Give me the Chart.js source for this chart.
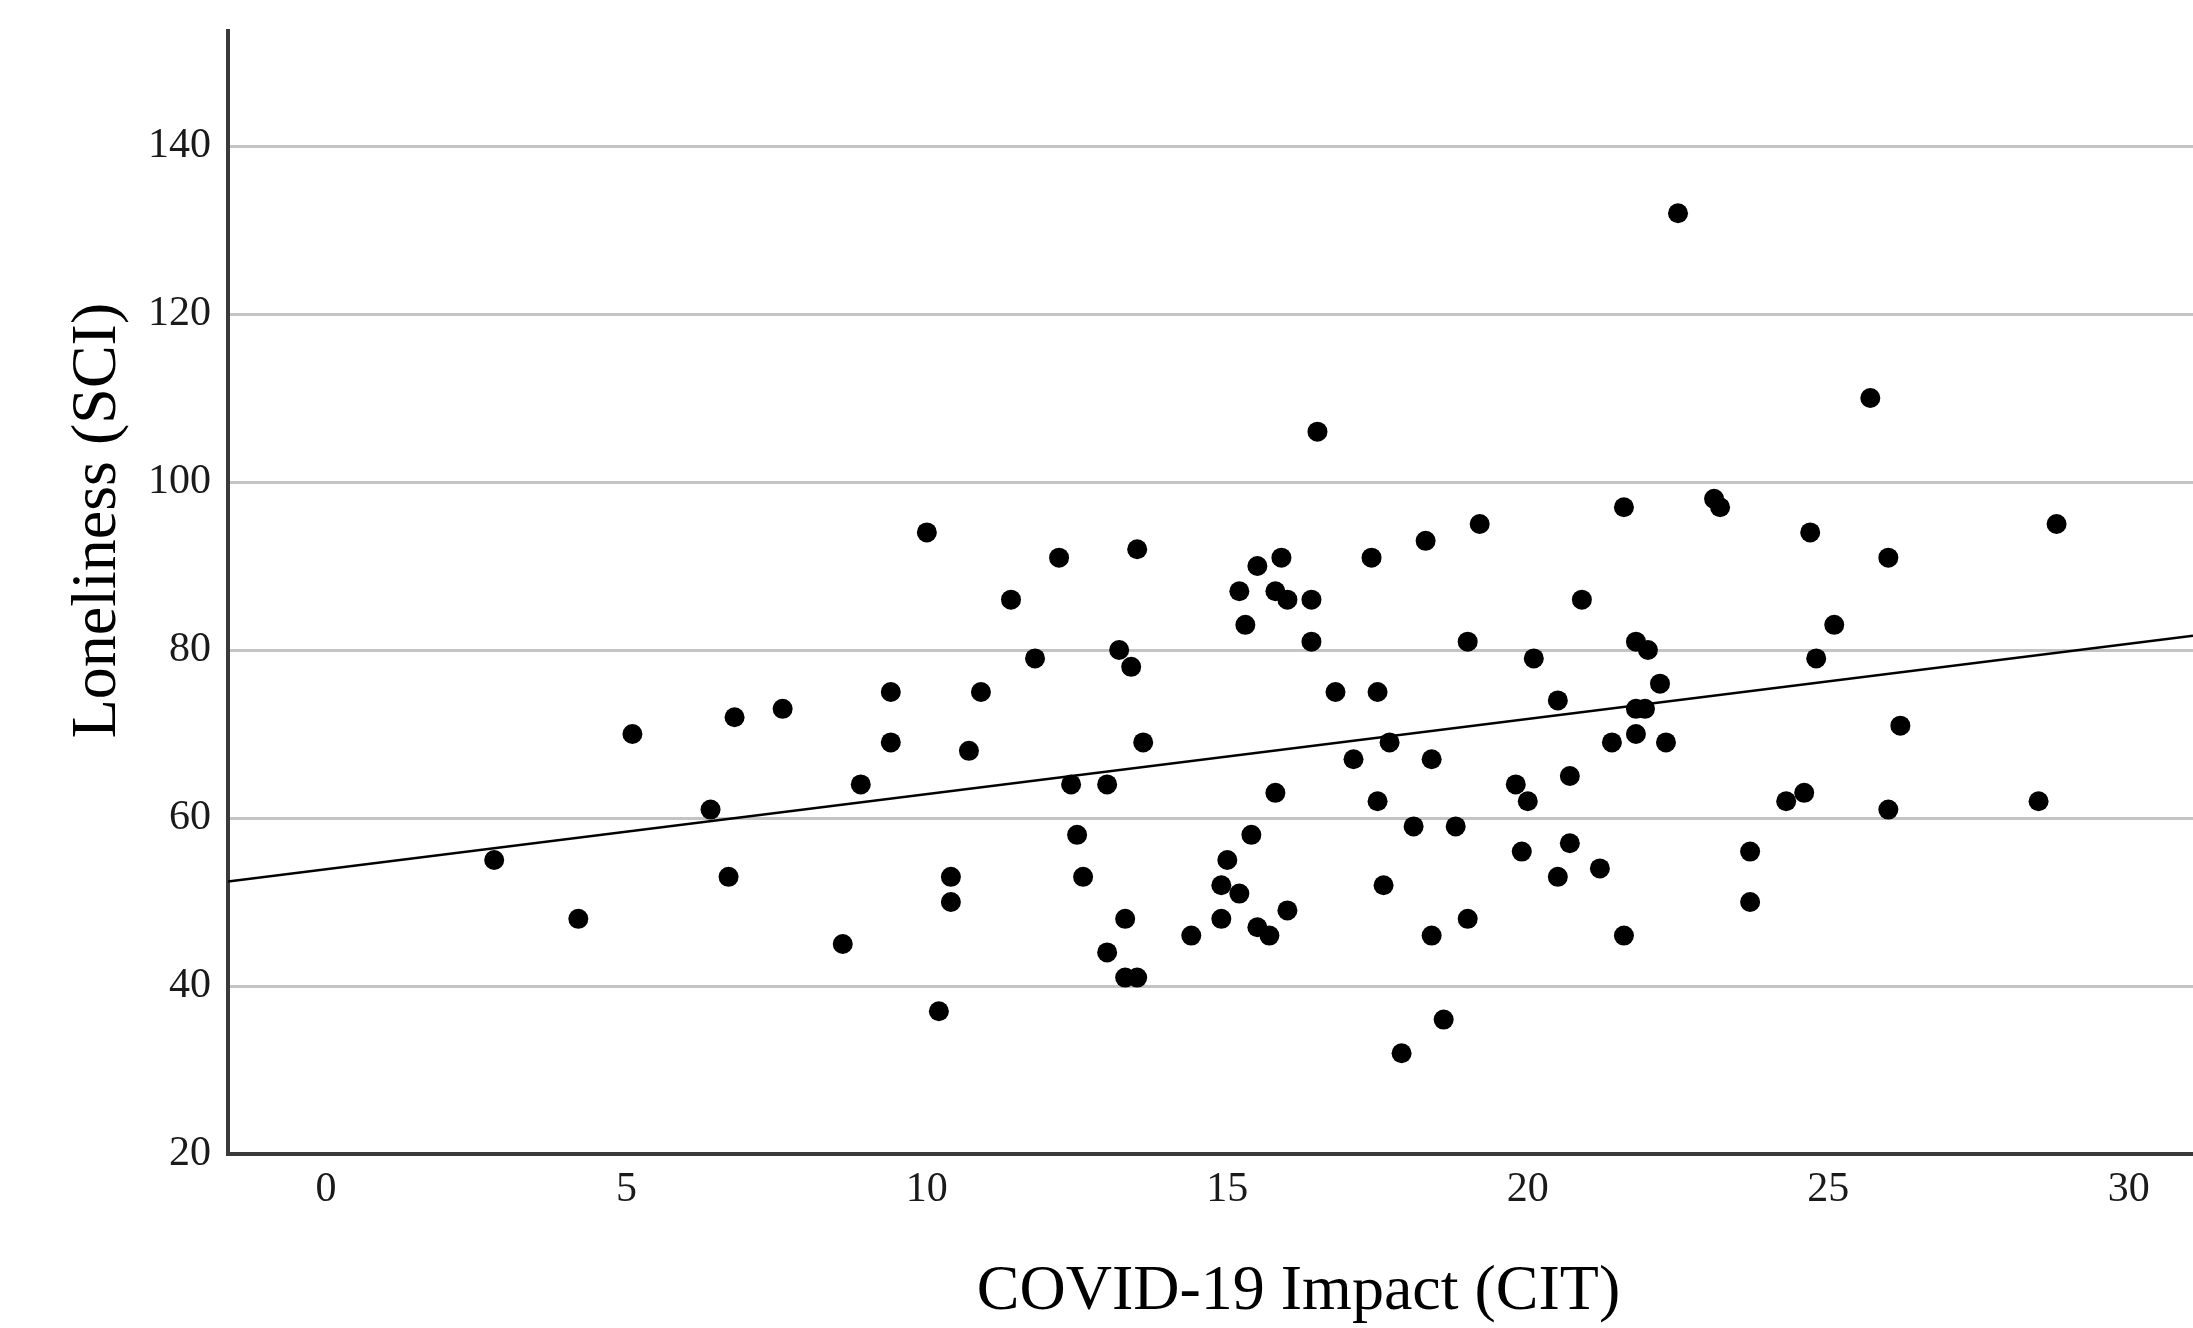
<!DOCTYPE html>
<html>
<head>
<meta charset="utf-8">
<script src="https://cdn.jsdelivr.net/npm/chart.js@4.4.1/dist/chart.umd.min.js"></script>
<style>
  html, body { margin: 0; padding: 0; background: #fff; overflow: hidden; }
  #wrap { width: 2193px; height: 1328px; }
  canvas { display: block; }
</style>
</head>
<body>
<div id="wrap"><canvas id="myChart" width="2193" height="1328"></canvas></div>
<script>
// Datos: COVID-19 Impact (CIT) vs Loneliness (SCI)
const cit = [
  2.8, 4.2, 5.1, 6.4, 6.7, 6.8, 7.6, 8.6, 8.9, 9.4,
  9.4, 10.0, 10.2, 10.4, 10.4, 10.7, 10.9, 11.4, 11.8, 12.2,
  12.4, 12.5, 12.6, 13.0, 13.0, 13.2, 13.3, 13.3, 13.4, 13.5,
  13.5, 13.6, 14.4, 14.9, 14.9, 15.0, 15.2, 15.2, 15.3, 15.4,
  15.5, 15.5, 15.7, 15.8, 15.8, 15.9, 16.0, 16.0, 16.4, 16.4,
  16.5, 16.8, 17.1, 17.4, 17.5, 17.5, 17.6, 17.7, 17.9, 18.1,
  18.3, 18.4, 18.4, 18.6, 18.8, 19.0, 19.0, 19.2, 19.8, 19.9,
  20.0, 20.1, 20.5, 20.5, 20.7, 20.7, 20.9, 21.2, 21.4, 21.6,
  21.6, 21.8, 21.8, 21.8, 21.95, 22.0, 22.2, 22.3, 22.5, 23.1,
  23.2, 23.7, 23.7, 24.3, 24.6, 24.7, 24.8, 25.1, 25.7, 26.0,
  26.0, 26.2, 28.5, 28.8
]
const sci = [
  55, 48, 70, 61, 53, 72, 73, 45, 64, 75,
  69, 94, 37, 53, 50, 68, 75, 86, 79, 91,
  64, 58, 53, 44, 64, 80, 48, 41, 78, 92,
  41, 69, 46, 48, 52, 55, 51, 87, 83, 58,
  90, 47, 46, 63, 87, 91, 86, 49, 86, 81,
  106, 75, 67, 91, 75, 62, 52, 69, 32, 59,
  93, 67, 46, 36, 59, 81, 48, 95, 64, 56,
  62, 79, 74, 53, 65, 57, 86, 54, 69, 97,
  46, 81, 70, 73, 73, 80, 76, 69, 132, 98,
  97, 56, 50, 62, 63, 94, 79, 83, 110, 91,
  61, 71, 62, 95
]

// Recta de regresion (extremos)
const fitX = [-1.63, 31.07]
const fitY = [52.45, 81.7]

// Ticks de los ejes
const xTicks = [0, 5, 10, 15, 20, 25, 30]
const yTicks = [20, 40, 60, 80, 100, 120, 140]

const puntos = cit.map((x, i) => ({ x: x, y: sci[i] }))
const recta = fitX.map((x, i) => ({ x: x, y: fitY[i] }))

const serif = "'Liberation Serif', 'Times New Roman', serif"
const tickFont = { family: serif, size: 42 }

// espacios duros para desplazar los titulos como en el original
const nb = (n) => '\u00A0'.repeat(n)

const ctx = document.querySelector("#myChart").getContext("2d")

new Chart(ctx, {
    type: 'scatter',
    data: {
        datasets: [
            {
                type: 'line',
                label: 'Fit',
                data: recta,
                borderColor: '#000',
                borderWidth: 2.5,
                pointRadius: 0,
                fill: false,
                order: 0
            },
            {
                label: 'Datos',
                data: puntos,
                backgroundColor: '#000',
                borderColor: '#000',
                borderWidth: 0,
                pointRadius: 10,
                order: 1
            }
        ]
    },
    options: {
        responsive: false,
        devicePixelRatio: 1,
        animation: false,
        layout: { autoPadding: false, padding: { top: 31, right: 0, bottom: 0, left: 0 } },
        plugins: {
            legend: { display: false },
            tooltip: { enabled: false }
        },
        scales: {
            x: {
                type: 'linear',
                bounds: 'data',
                min: fitX[0],
                max: fitX[1],
                afterBuildTicks: (scale) => { scale.ticks = xTicks.map(v => ({ value: v })) },
                afterFit: (scale) => {
                    scale.height = 174
                    scale.paddingLeft = 0
                    scale.paddingRight = 0
                },
                grid: { display: false, drawTicks: false },
                border: { display: true, color: '#3a3a3a', width: 4 },
                ticks: { font: tickFont, color: '#1a1a1a', padding: 11, maxRotation: 0, autoSkip: false },
                title: {
                    display: true,
                    text: nb(11) + 'COVID-19 Impact (CIT)',
                    font: { family: serif, size: 64, lineHeight: 0.8 },
                    color: '#000',
                    padding: { top: 0, bottom: 10 }
                }
            },
            y: {
                type: 'linear',
                bounds: 'data',
                min: 20,
                max: 153.7,
                afterBuildTicks: (scale) => { scale.ticks = yTicks.map(v => ({ value: v })) },
                afterFit: (scale) => {
                    scale.width = 228
                    scale.paddingTop = 0
                    scale.paddingBottom = 0
                },
                grid: { color: '#c4c4c4', lineWidth: 3, drawTicks: false },
                border: { display: true, color: '#3a3a3a', width: 4 },
                ticks: { font: tickFont, color: '#1a1a1a', padding: 17, autoSkip: false },
                title: {
                    display: true,
                    text: nb(9) + 'Loneliness (SCI)',
                    font: { family: serif, size: 64, lineHeight: 1 },
                    color: '#000',
                    padding: { top: 66, bottom: 0 }
                }
            }
        }
    }
})
</script>
</body>
</html>
